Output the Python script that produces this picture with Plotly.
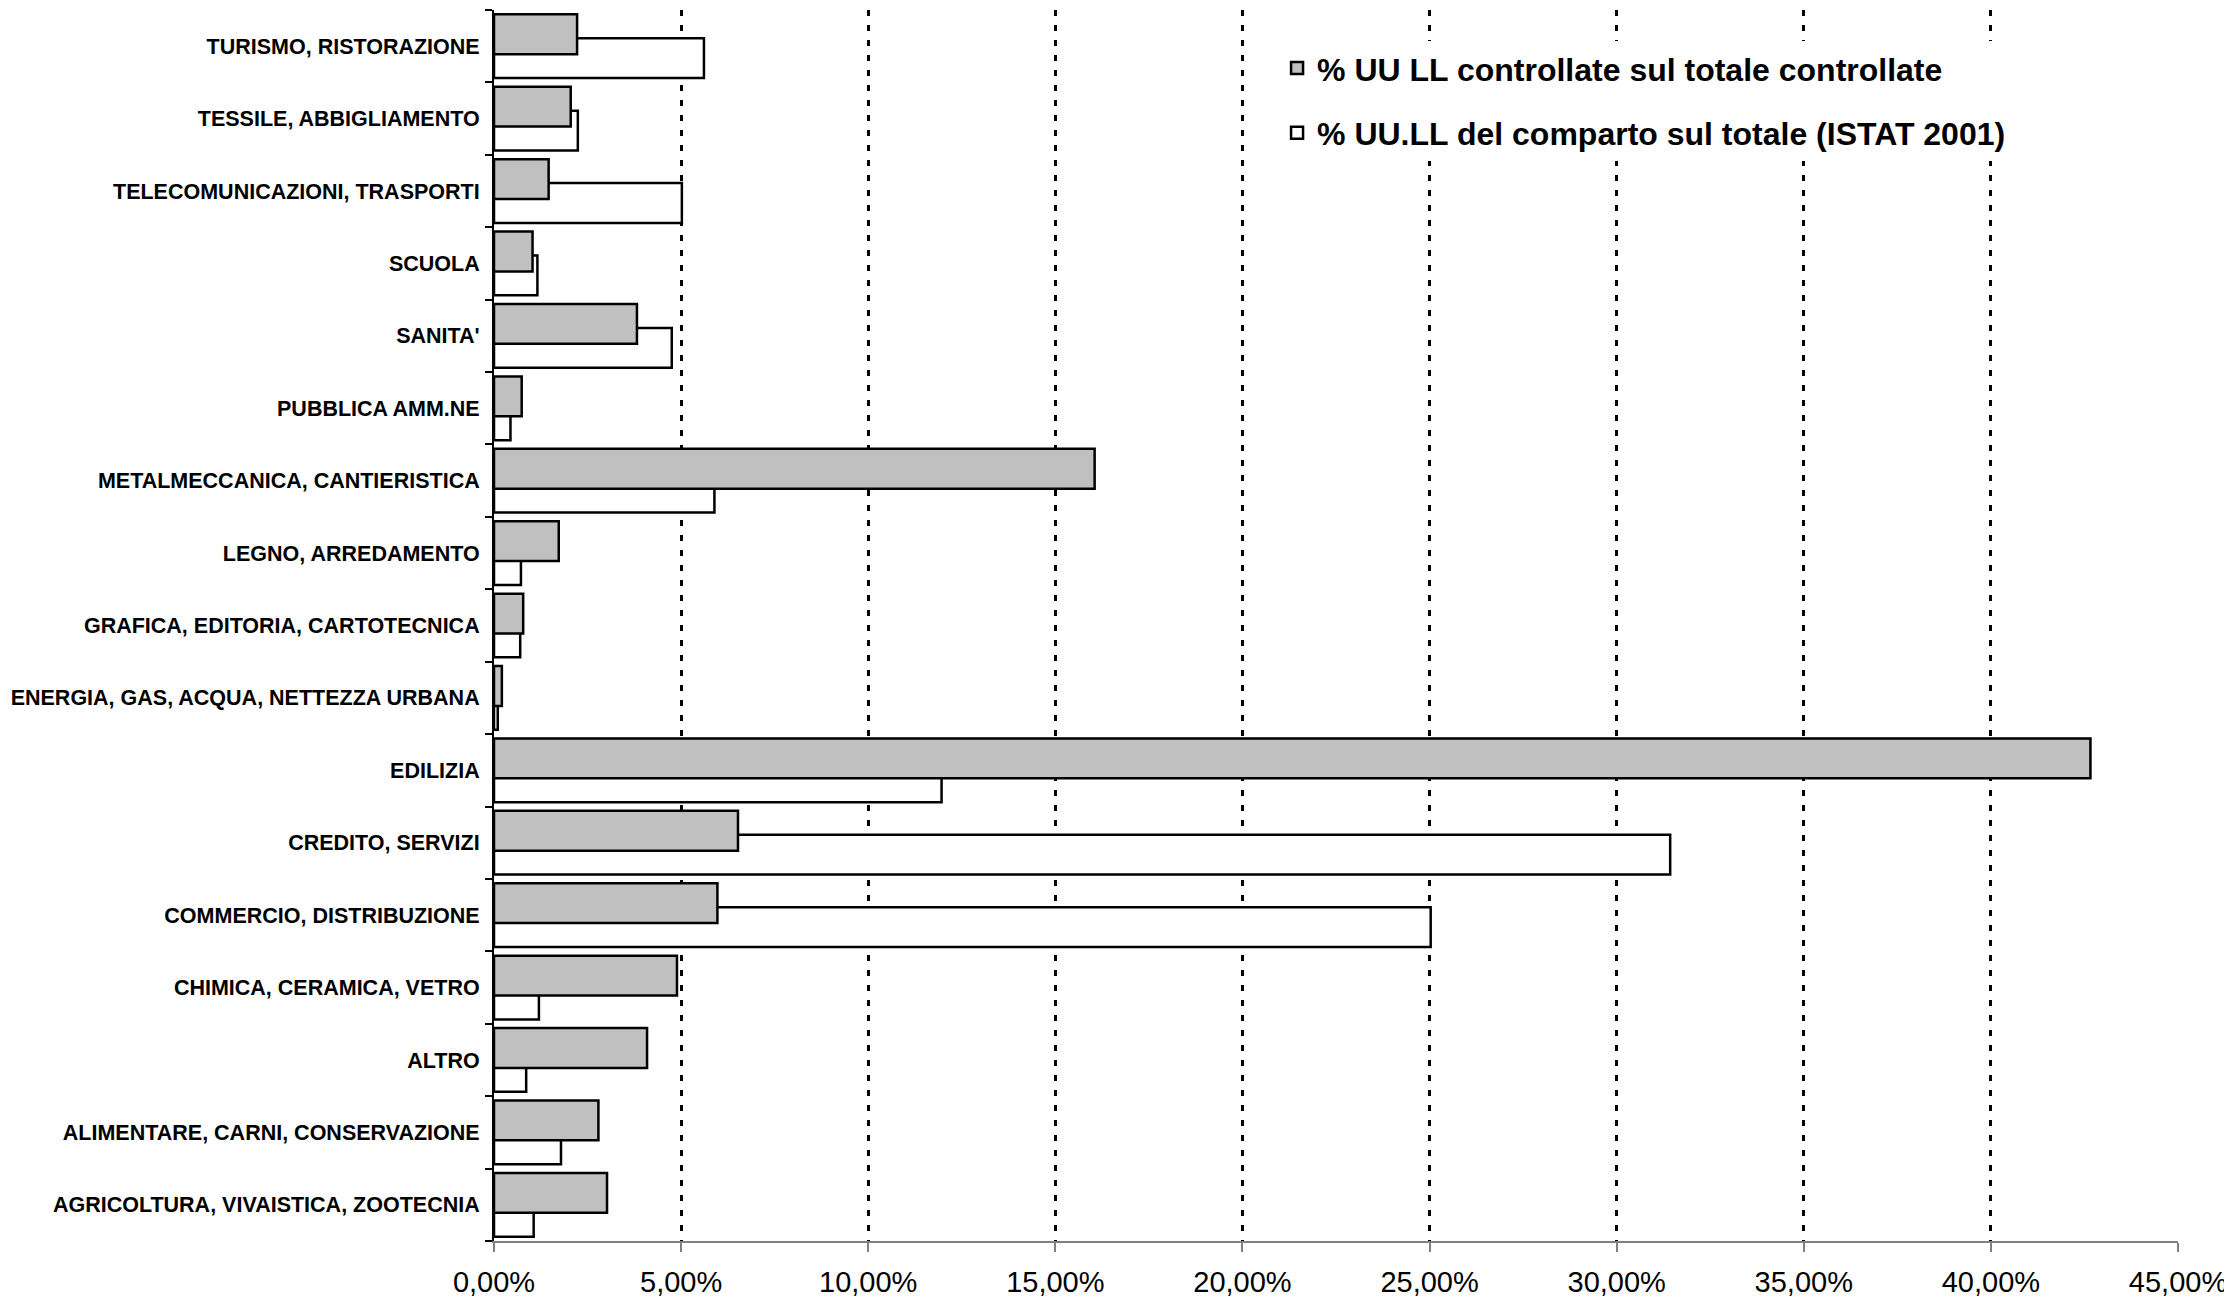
import plotly.graph_objects as go

categories = [
    "AGRICOLTURA, VIVAISTICA, ZOOTECNIA",
    "ALIMENTARE, CARNI, CONSERVAZIONE",
    "ALTRO",
    "CHIMICA, CERAMICA, VETRO",
    "COMMERCIO, DISTRIBUZIONE",
    "CREDITO, SERVIZI",
    "EDILIZIA",
    "ENERGIA, GAS, ACQUA, NETTEZZA URBANA",
    "GRAFICA, EDITORIA, CARTOTECNICA",
    "LEGNO, ARREDAMENTO",
    "METALMECCANICA, CANTIERISTICA",
    "PUBBLICA AMM.NE",
    "SANITA'",
    "SCUOLA",
    "TELECOMUNICAZIONI, TRASPORTI",
    "TESSILE, ABBIGLIAMENTO",
    "TURISMO, RISTORAZIONE",
]

controllate = [3.02, 2.79, 4.09, 4.89, 5.97, 6.52, 42.66, 0.21, 0.78, 1.73,
               16.05, 0.74, 3.82, 1.03, 1.46, 2.05, 2.22]
istat_2001 = [1.06, 1.79, 0.86, 1.20, 25.03, 31.43, 11.96, 0.10, 0.70, 0.72,
              5.89, 0.44, 4.75, 1.16, 5.02, 2.24, 5.61]

name_controllate = "% UU LL controllate sul totale controllate"
name_istat = "% UU.LL del comparto sul totale (ISTAT 2001)"

x_ticks = [0, 5, 10, 15, 20, 25, 30, 35, 40, 45]
x_ticklabels = ["0,00%", "5,00%", "10,00%", "15,00%", "20,00%",
                "25,00%", "30,00%", "35,00%", "40,00%", "45,00%"]

FONT = "Liberation Sans, Arial, sans-serif"

fig = go.Figure()
fig.add_trace(go.Bar(
    y=categories, x=istat_2001, orientation="h", name=name_istat,
    marker=dict(color="#FFFFFF", line=dict(color="#000000", width=2.5)),
    width=0.55, offset=-0.44, legendgroup="b", legendrank=2,
))
fig.add_trace(go.Bar(
    y=categories, x=controllate, orientation="h", name=name_controllate,
    marker=dict(color="#C0C0C0", line=dict(color="#000000", width=2.5)),
    width=0.55, offset=-0.11, legendgroup="a", legendrank=1,
))

fig.update_layout(
    width=2224, height=1290,
    margin=dict(l=486, r=54, t=2, b=57, autoexpand=False),
    barmode="overlay",
    plot_bgcolor="#FFFFFF", paper_bgcolor="#FFFFFF",
    font=dict(family=FONT, color="#000000"),
    legend=dict(
        x=0.465, y=0.975, xanchor="left", yanchor="top",
        traceorder="grouped", tracegroupgap=20,
        font=dict(family=FONT, size=32, color="#000000", weight="bold"),
        bgcolor="#FFFFFF", itemwidth=30,
    ),
    xaxis=dict(
        range=[0, 45], tickvals=x_ticks, ticktext=x_ticklabels,
        showgrid=True, gridcolor="#000000", gridwidth=3, griddash="6px,9px",
        zeroline=False, showline=True, linecolor="#808080", linewidth=2,
        ticks="outside", ticklen=9, tickwidth=2, tickcolor="#808080",
        ticklabelstandoff=5,
        tickfont=dict(family=FONT, size=29, color="#000000"),
        automargin=False,
    ),
    yaxis=dict(
        type="category", categoryorder="array", categoryarray=categories,
        range=[-0.5, len(categories) - 0.5],
        showgrid=False, zeroline=False, showline=True, linecolor="#000000", linewidth=2,
        ticks="outside", tickson="boundaries", ticklen=7, tickwidth=1.5, tickcolor="#000000",
        ticklabelstandoff=8,
        tickfont=dict(family=FONT, size=21.5, color="#000000", weight="bold"),
        automargin=False,
    ),
)

fig.write_html("out.html")
